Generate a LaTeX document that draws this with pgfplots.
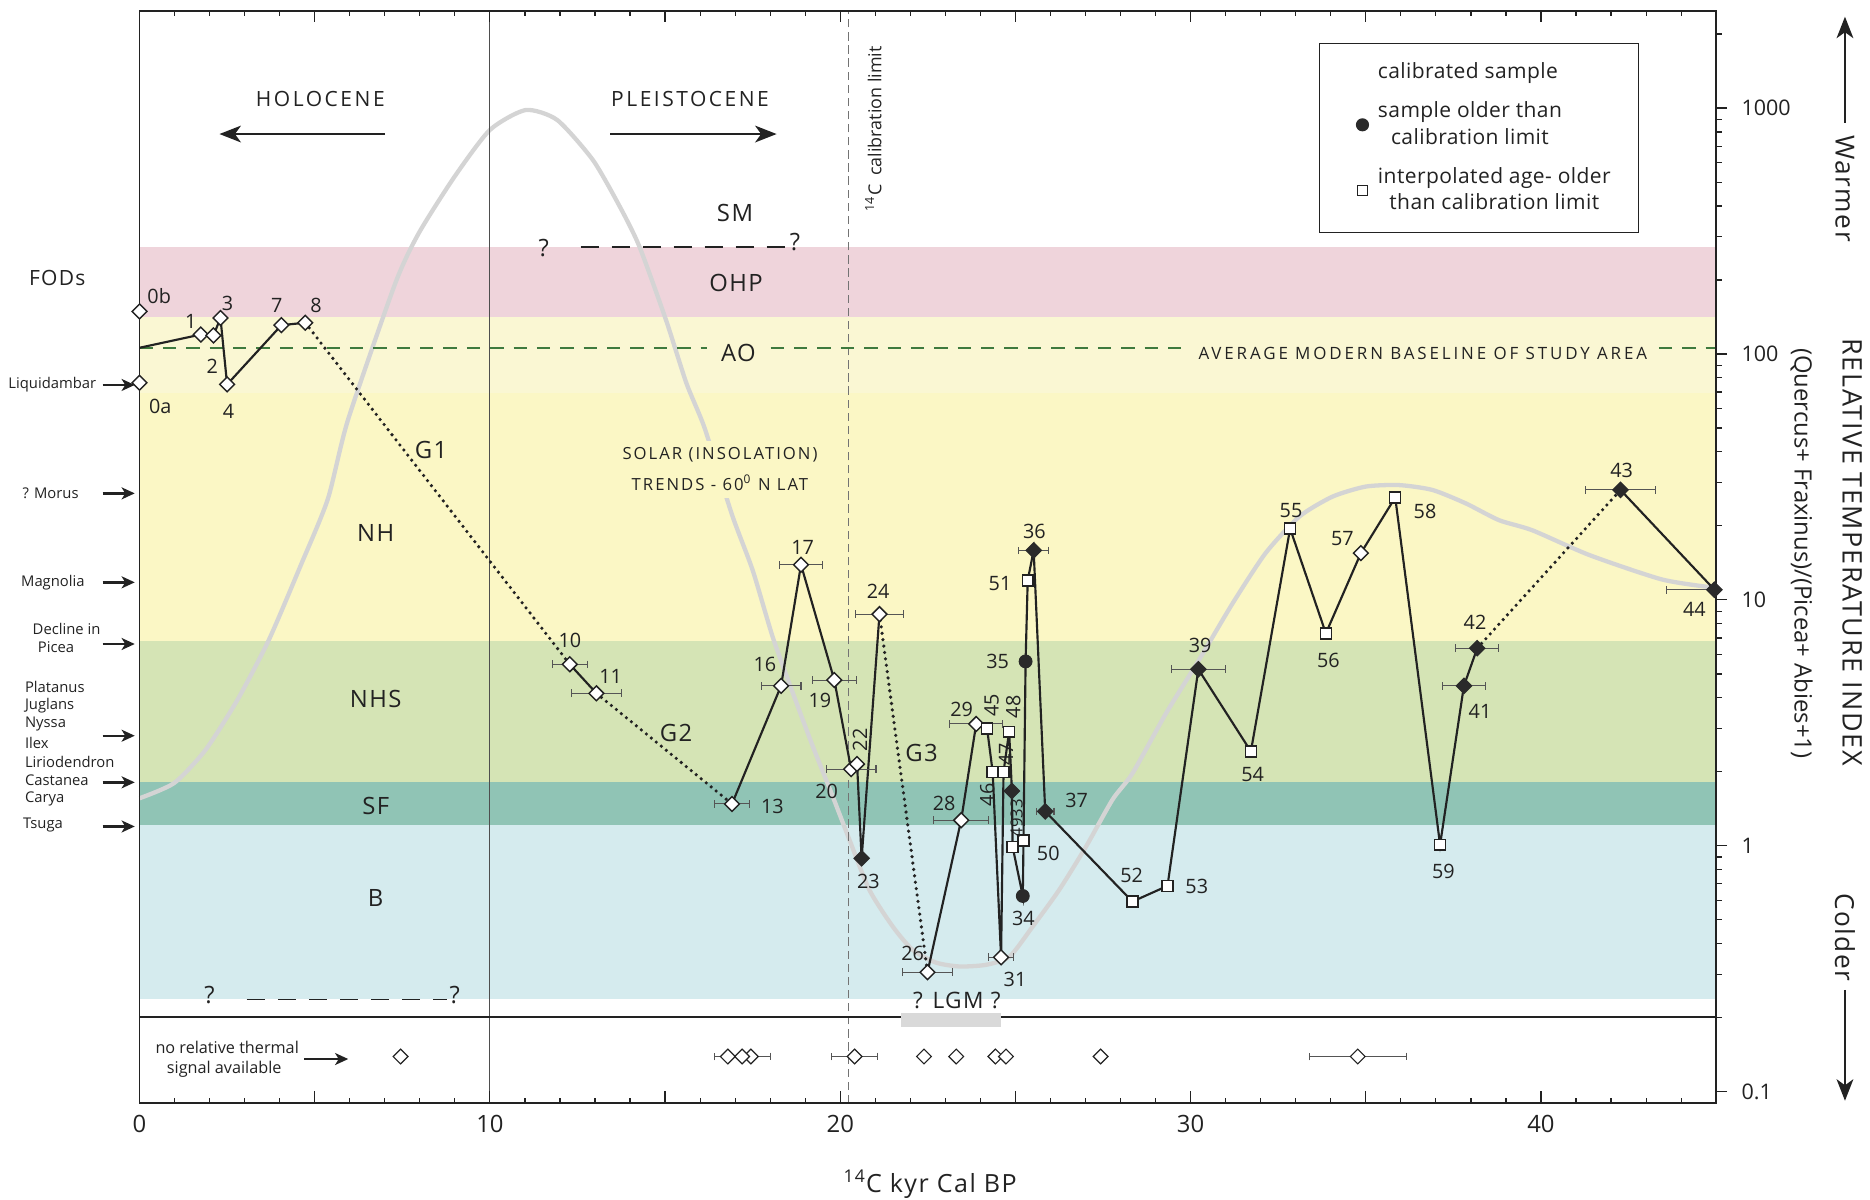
\documentclass[border=0pt]{standalone}
\usepackage{fontspec}
\setmainfont{Open Sans}
\newfontfamily\spaced[LetterSpace=12]{Open Sans}
\newfontfamily\lspaced[LetterSpace=6]{Open Sans}
\newfontfamily\legfont[LetterSpace=2]{Open Sans}
\newfontfamily\wspaced[LetterSpace=17]{Open Sans}
\usepackage{pgfplots}
\usepackage{pgfplotstable}
\pgfplotsset{compat=1.18}
\usetikzlibrary{arrows.meta}

\definecolor{pinkband}{HTML}{EFD4DB}
\definecolor{paleyel}{HTML}{FAF7D3}
\definecolor{yelband}{HTML}{FBF7C5}
\definecolor{greenband}{HTML}{D5E4B5}
\definecolor{tealband}{HTML}{90C4B5}
\definecolor{blueband}{HTML}{D5EBEE}
\definecolor{aogreen}{HTML}{3E7A3E}
\definecolor{solar}{HTML}{D4D4D4}
\definecolor{ink}{HTML}{222222}
\definecolor{fillmk}{HTML}{2A2A2A}
\definecolor{ebar}{HTML}{555555}

\pgfdeclareplotmark{dia}{%
  \pgfpathmoveto{\pgfqpoint{0pt}{\pgfplotmarksize}}%
  \pgfpathlineto{\pgfqpoint{\pgfplotmarksize}{0pt}}%
  \pgfpathlineto{\pgfqpoint{0pt}{-\pgfplotmarksize}}%
  \pgfpathlineto{\pgfqpoint{-\pgfplotmarksize}{0pt}}%
  \pgfpathclose
  \pgfusepathqfillstroke}

\pgfplotsset{
  fp/.style={forget plot},
  odia/.style={fp, only marks, mark=dia, mark size=3.1pt, mark options={fill=white, draw=ink, line width=0.6pt}},
  fdia/.style={fp, only marks, mark=dia, mark size=3.2pt, mark options={fill=fillmk, draw=fillmk, line width=0.5pt}},
  osq/.style={fp, only marks, mark=square*, mark size=2.3pt, mark options={fill=white, draw=ink, line width=0.6pt}},
  fcirc/.style={fp, only marks, mark=*, mark size=2.7pt, mark options={fill=fillmk, draw=fillmk}},
  eb/.style={error bars/.cd, x dir=both, x explicit, error bar style={line width=0.45pt, color=ebar}, error mark options={rotate=90, line width=0.45pt, color=ebar, mark size=1.6pt}},
  solidln/.style={fp, no markers, ink, line width=0.9pt},
  dotln/.style={fp, no markers, ink, line width=1.5pt, line cap=round, dash pattern=on 0pt off 2.7pt},
}

% insolation curve
\pgfplotstableread{
x y
0.00 1.56
0.99 1.80
1.88 2.45
2.79 3.91
3.69 6.87
4.59 13.7
5.37 25.6
5.95 54
7.30 194
7.97 310
8.99 526
10.0 815
11.02 982
11.92 895
12.94 615
13.71 397
14.27 273
15.03 137
15.61 76
16.13 49.9
16.91 22.2
17.50 13.2
18.07 7.08
18.65 4.17
19.22 2.53
19.79 1.58
20.26 1.06
20.83 0.662
21.50 0.469
22.07 0.377
22.73 0.335
23.40 0.323
24.16 0.328
24.83 0.354
25.49 0.469
26.25 0.662
27.01 0.99
27.77 1.54
28.34 1.97
29.30 3.46
30.24 5.70
31.20 9.69
32.14 15.5
33.10 21.8
34.05 26.3
35.00 28.9
35.95 29.3
36.90 28.0
37.85 24.7
38.80 21.1
39.75 19.2
41.39 15.2
43.46 12.1
44.96 11.2
}\solartab

% solid segments
\pgfplotstableread{
x y
0 106
1.75 120
2.11 119
2.31 140
2.50 75.2
4.05 131
4.73 134
}\segA
\pgfplotstableread{
x y
12.28 5.47
13.04 4.17
}\segB
\pgfplotstableread{
x y
16.91 1.48
18.31 4.47
18.88 13.9
19.83 4.72
20.31 2.05
20.48 2.15
20.61 0.889
21.12 8.75
}\segC
\pgfplotstableread{
x y
22.49 0.306
23.45 1.27
23.88 3.13
24.19 3.00
24.35 2.00
24.59 0.352
24.66 2.00
24.82 2.91
24.90 1.67
24.92 0.99
25.21 0.625
25.23 1.05
25.29 5.62
25.35 12.0
25.52 15.9
25.85 1.38
28.34 0.593
29.34 0.687
30.22 5.22
31.72 2.42
32.84 19.5
33.86 7.31
34.86 15.5
35.84 26.1
37.12 1.01
37.80 4.47
38.18 6.36
}\segD
\pgfplotstableread{
x y
42.27 28.0
44.95 11.0
}\segE

% markers
\pgfplotstableread{
x y
0 76.4
0 149
1.75 120
2.11 119
2.31 140
2.50 75.2
4.05 131
4.73 134
34.86 15.5
}\odia
\pgfplotstableread{
x y ex
12.28 5.47 0.50
13.04 4.17 0.72
16.91 1.48 0.49
18.31 4.47 0.57
18.88 13.9 0.62
19.83 4.72 0.63
20.31 2.05 0.71
21.12 8.75 0.69
22.49 0.306 0.71
23.45 1.27 0.79
23.88 3.13 0.76
24.59 0.352 0.35
}\odiaE
\pgfplotstableread{
x y
20.48 2.15
}\odiaT
\pgfplotstableread{
x y
20.61 0.889
24.90 1.67
}\fdia
\pgfplotstableread{
x y ex
25.52 15.9 0.43
25.85 1.38 0.25
30.22 5.22 0.77
37.80 4.47 0.62
38.18 6.36 0.61
42.27 28.0 1.01
}\fdiaE
\pgfplotstableread{
x y ex
44.95 11.0 1.38
}\fdiaR
\pgfplotstableread{
x y
25.21 0.625
25.29 5.62
}\fcirc
\pgfplotstableread{
x y
24.19 3.00
24.35 2.00
24.66 2.00
24.82 2.91
24.92 0.99
25.23 1.05
25.35 12.0
28.34 0.593
29.34 0.687
31.72 2.42
32.84 19.5
33.86 7.31
35.84 26.1
37.12 1.01
}\osq
\pgfplotstableread{
x y ex
17.20 0.139 0.80
20.41 0.139 0.65
34.77 0.139 1.38
}\bstripE
\pgfplotstableread{
x y
7.45 0.139
16.79 0.139
17.45 0.139
22.39 0.139
23.31 0.139
24.43 0.139
24.73 0.139
27.43 0.139
}\bstrip

\begin{document}
\begin{tikzpicture}
% right-hand log axis (ticks outside)
\begin{axis}[
  at={(0,0)}, anchor=south west, scale only axis, width=661pt, height=458pt,
  xmin=0, xmax=45, ymode=log, ymin=0.0898, ymax=2489,
  xtick=\empty, xminorticks=false,
  ytick={0.1,1,10,100,1000}, yticklabels={0.1,1,10,100,1000},
  minor ytick={0.2,0.3,0.4,0.5,0.6,0.7,0.8,0.9,2,3,4,5,6,7,8,9,20,30,40,50,60,70,80,90,200,300,400,500,600,700,800,900,2000},
  ytick pos=right, yticklabel pos=right, tick align=outside,
  major tick length=4.6pt, minor tick length=2.3pt,
  tick style={color=ink, line width=0.5pt},
  yticklabel style={font=\fontsize{9}{9}\selectfont, text=ink, xshift=2.5pt},
  axis line style={ink, line width=0.7pt},
  /pgf/number format/assume math mode=true,
]
\addplot[draw=none, forget plot] coordinates {(1,1)};
\end{axis}

\begin{axis}[
  at={(0,0)}, anchor=south west, scale only axis, width=661pt, height=458pt,
  xmin=0, xmax=45, ymode=log, ymin=0.0898, ymax=2489,
  ymajorticks=false, yminorticks=false,
  xtick={0,5,...,45}, xticklabels={0,,10,,20,,30,,40,},
  minor x tick num=4, tick align=inside, xtick pos=both,
  major tick length=4.9pt, minor tick length=2.1pt,
  tick style={color=ink, line width=0.5pt},
  xticklabel style={font=\fontsize{10}{10}\selectfont, text=ink, yshift=-1.5pt},
  axis line style={ink, line width=0.7pt},
  axis on top, clip=false,
  /pgf/number format/assume math mode=true,
  legend style={at={(axis description cs:0.748,0.9705)}, anchor=north west, draw=ink, line width=0.5pt, fill=white,
    font=\legfont\fontsize{8.8}{11}\selectfont, text=ink, cells={anchor=west, align=center},
    inner xsep=9.5pt, inner ysep=6pt, row sep=4.3pt, column sep=2pt},
]
\addlegendimage{empty legend}
\addlegendentry{calibrated sample}
\addlegendimage{only marks, mark=*, mark size=2.5pt, mark options={fill=fillmk, draw=fillmk}}
\addlegendentry{sample older than\\calibration limit}
\addlegendimage{only marks, mark=square, mark size=2pt, mark options={draw=ink, line width=0.5pt}}
\addlegendentry{interpolated age- older\\than calibration limit}

\coordinate (LL) at (rel axis cs:0,0);

% thermal bands
\addplot[fp, fill=pinkband, draw=none] coordinates {(0,142)(45,142)(45,273)(0,273)};
\addplot[fp, fill=paleyel, draw=none] coordinates {(0,69.2)(45,69.2)(45,142)(0,142)};
\addplot[fp, fill=yelband, draw=none] coordinates {(0,6.80)(45,6.80)(45,69.2)(0,69.2)};
\addplot[fp, fill=greenband, draw=none] coordinates {(0,1.81)(45,1.81)(45,6.80)(0,6.80)};
\addplot[fp, fill=tealband, draw=none] coordinates {(0,1.21)(45,1.21)(45,1.81)(0,1.81)};
\addplot[fp, fill=blueband, draw=none] coordinates {(0,0.239)(45,0.239)(45,1.21)(0,1.21)};

% insolation curve
\addplot[fp, solar, line width=1.8pt, smooth, tension=0.4] table {\solartab};

% reference lines
\addplot[fp, ink!80, line width=0.45pt] coordinates {(10,0.0898)(10,2489)};
\addplot[fp, black!55, line width=0.5pt, dash pattern=on 3.5pt off 2pt] coordinates {(20.23,0.0898)(20.23,2489)};
\addplot[fp, aogreen, line width=0.8pt, dash pattern=on 5.6pt off 4.2pt] coordinates {(0,106)(45,106)};
\addplot[fp, ink, line width=0.9pt] coordinates {(0,0.2018)(45,0.2018)};
\addplot[fp, fill=black!15, draw=none] coordinates {(21.73,0.184)(24.58,0.184)(24.58,0.208)(21.73,0.208)};
\addplot[fp, ink, line width=0.8pt, dash pattern=on 7.5pt off 5.5pt] coordinates {(12.59,273)(18.48,273)};
\addplot[fp, ink, line width=0.8pt, dash pattern=on 7.5pt off 5.5pt] coordinates {(3.06,0.237)(8.77,0.237)};

% connecting lines
\addplot[solidln] table {\segA};
\addplot[dotln] coordinates {(4.73,134)(12.28,5.47)};
\addplot[solidln] table {\segB};
\addplot[dotln] coordinates {(13.04,4.17)(16.91,1.48)};
\addplot[solidln] table {\segC};
\addplot[dotln] coordinates {(21.12,8.75)(22.49,0.306)};
\addplot[solidln] table {\segD};
\addplot[dotln] coordinates {(38.18,6.36)(42.27,28.0)};
\addplot[solidln] table {\segE};

% samples
\addplot[odia] table {\odia};
\addplot[odia, eb] table[x=x, y=y, x error=ex] {\odiaE};
\addplot[odia] table {\odiaT};
\addplot[fdia] table {\fdia};
\addplot[fdia, eb] table[x=x, y=y, x error=ex] {\fdiaE};
\addplot[fdia, error bars/.cd, x dir=minus, x explicit, error bar style={line width=0.45pt, color=ebar}, error mark options={rotate=90, line width=0.45pt, color=ebar, mark size=1.6pt}] table[x=x, y=y, x error=ex] {\fdiaR};
\addplot[fcirc] table {\fcirc};
\addplot[osq] table {\osq};

% no-signal strip
\addplot[fp, only marks, mark=dia, mark size=3.1pt, mark options={fill=white, draw=ink, line width=0.5pt}] table {\bstrip};
\addplot[fp, only marks, mark=dia, mark size=3.1pt, mark options={fill=white, draw=ink, line width=0.5pt}, eb] table[x=x, y=y, x error=ex] {\bstripE};
\end{axis}

\begin{scope}[shift={(LL)}, xshift=-58.5pt, yshift=462.5pt, x=0.5pt, y=-0.5pt,
  every node/.style={inner sep=0pt, text=ink}]
\path (0,0) rectangle (1568,1006);
\tikzset{bigarrow/.style={ink, line width=1pt, -{Stealth[length=9pt, width=7pt, inset=2.5pt]}},
         smallarrow/.style={ink, line width=1pt, -{Stealth[length=5.5pt, width=5pt, inset=1.5pt]}}}
% epochs
\node[font=\spaced\fontsize{8.8}{9}\selectfont] at (268.6,83) {HOLOCENE};
\draw[bigarrow] (323,112.4) -- (184,112.4);
\node[font=\spaced\fontsize{8.8}{9}\selectfont] at (578.6,83) {PLEISTOCENE};
\draw[bigarrow] (511.5,112.4) -- (651.2,112.4);
% calibration limit
\node[rotate=90, font=\fontsize{7.5}{8}\selectfont] at (732.3,108) {\textsuperscript{14}C\enspace calibration limit};
% zone labels
\begin{scope}[every node/.append style={font=\lspaced\fontsize{10}{11}\selectfont}]
\node at (616.3,178.9) {SM};
\node at (617.1,237.6) {OHP};
\node[fill=paleyel, inner xsep=6pt, inner ysep=2pt] at (619.1,296.3) {AO};
\node at (315,447.2) {NH};
\node at (315,586) {NHS};
\node at (315,675.8) {SF};
\node at (315,753.3) {B};
\node at (361.4,377.3) {G1};
\node at (566.8,614.9) {G2};
\node at (772.8,631.2) {G3};
\node at (456,208) {?};
\node at (666.6,202.6) {?};
\node at (175.7,834.3) {?};
\node at (381.3,834.3) {?};
\end{scope}
\node[fill=paleyel, inner xsep=4pt, inner ysep=2pt, font=\wspaced\fontsize{7.1}{8}\selectfont] at (1193,296.5) {AVERAGE MODERN BASELINE OF STUDY AREA};
\node[fill=yelband, inner sep=3pt, align=center, font=\spaced\fontsize{7}{13}\selectfont] at (603.7,393.7) {SOLAR (INSOLATION)\\TRENDS - 60\textsuperscript{0} N LAT};
\node[font=\lspaced\fontsize{9.5}{10}\selectfont] at (802.3,839.1) {? LGM ?};
% FODs and taxa
\node[font=\lspaced\fontsize{8.8}{9}\selectfont] at (48,233.4) {FODs};
\begin{scope}[every node/.append style={font=\fontsize{6.2}{7}\selectfont}]
\node[anchor=east] at (81,322.8) {Liquidambar};
\node[anchor=east] at (66.3,413.7) {? Morus};
\node[anchor=east] at (71.3,488.3) {Magnolia};
\node at (55.8,527.7) {Decline in};
\node at (47,542.8) {Picea};
\node[anchor=west] at (20.6,575.8) {Platanus};
\node[anchor=west] at (20.6,591.7) {Juglans};
\node[anchor=west] at (20.6,607.1) {Nyssa};
\node[anchor=west] at (20.6,622.7) {Ilex};
\node[anchor=west] at (20.6,638.6) {Liriodendron};
\node[anchor=west] at (20.6,654) {Castanea};
\node[anchor=west] at (20.6,670) {Carya};
\node[anchor=west] at (19,691.7) {Tsuga};
\end{scope}
\foreach \yy in {322.8,413.7,488.3,540,616.9,656,693} {\draw[smallarrow] (86,\yy) -- (113,\yy);}
% sample numbers
\begin{scope}[every node/.append style={font=\fontsize{8.3}{9}\selectfont}]
\node at (133.5,248) {0b};
\node at (134.3,341) {0a};
\node at (160,269.7) {1};
\node at (178,306.9) {2};
\node at (190.7,254.3) {3};
\node at (191.6,345.2) {4};
\node at (232,255.7) {7};
\node at (265,255.7) {8};
\node at (477.9,537.2) {10};
\node at (512,567.4) {11};
\node at (647.6,675.8) {13};
\node at (641.4,556.8) {16};
\node at (673,459) {17};
\node at (687.5,587.5) {19};
\node at (693.1,663.8) {20};
\node[rotate=90] at (721.1,620.5) {22};
\node at (728.1,739.3) {23};
\node at (736.4,496.1) {24};
\node at (765.3,799.3) {26};
\node at (791.6,673.6) {28};
\node at (806.4,594.5) {29};
\node at (851.1,820.9) {31};
\node[rotate=90] at (831.5,591.2) {45};
\node[rotate=90] at (849.7,592.6) {48};
\node[rotate=90] at (843.5,632.3) {47};
\node[rotate=90] at (827.9,666.6) {46};
\node[rotate=90, font=\fontsize{7}{8}\selectfont] at (852.5,686.2) {4933};
\node at (867.3,445.9) {36};
\node at (838.5,489.2) {51};
\node at (836.6,554.8) {35};
\node at (902.8,670.8) {37};
\node at (879,715.5) {50};
\node at (858.1,770.1) {34};
\node at (948.9,733.7) {52};
\node at (1003.5,743.4) {53};
\node at (1006.3,540.8) {39};
\node at (1050.4,649.8) {54};
\node at (1082.5,428.2) {55};
\node at (1113.8,553.4) {56};
\node at (1125.6,451.3) {57};
\node at (1194.9,429) {58};
\node at (1210.3,730.8) {59};
\node at (1241,596.7) {41};
\node at (1236.8,522.1) {42};
\node at (1359.7,394.2) {43};
\node at (1420.7,510.6) {44};
\end{scope}
% no-signal strip
\node[font=\fontsize{6.8}{7}\selectfont] at (190.5,878.5) {no relative thermal};
\node[font=\fontsize{6.8}{7}\selectfont] at (188,896.7) {signal available};
\draw[smallarrow] (255,888) -- (292,888);
% right titles
\node[rotate=-90, font=\lspaced\fontsize{11.3}{12}\selectfont] at (1553,463) {RELATIVE TEMPERATURE INDEX};
\node[rotate=-90, font=\fontsize{10}{11}\selectfont] at (1510.6,464) {(Quercus+ Fraxinus)/(Picea+ Abies+1)};
\node[rotate=-90, font=\lspaced\fontsize{11}{12}\selectfont] at (1547,158) {Warmer};
\node[rotate=-90, font=\lspaced\fontsize{11}{12}\selectfont] at (1547,786) {Colder};
\draw[bigarrow] (1547,103) -- (1547,14);
\draw[bigarrow] (1547,830) -- (1547,923);
% x label
\node[font=\lspaced\fontsize{10.5}{11}\selectfont] at (780,993) {\textsuperscript{14}C kyr Cal BP};
\end{scope}
\end{tikzpicture}
\end{document}
